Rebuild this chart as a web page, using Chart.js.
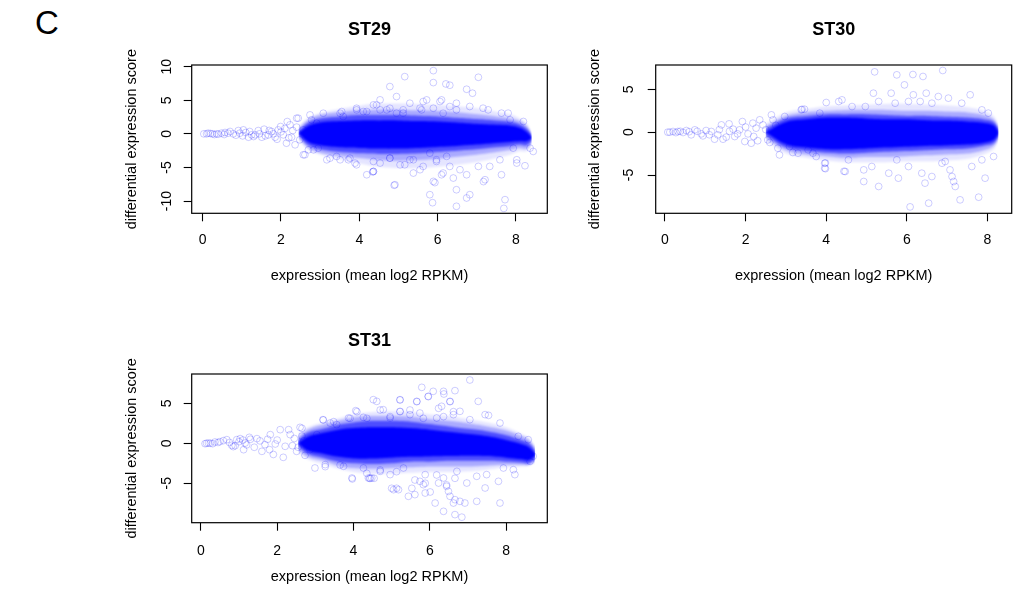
<!DOCTYPE html>
<html>
<head>
<meta charset="utf-8">
<script src="https://cdn.jsdelivr.net/npm/chart.js@4/dist/chart.umd.min.js"></script>
<style>
  html, body { margin: 0; padding: 0; background: #fff; }
  body { width: 1018px; height: 593px; position: relative; overflow: hidden;
         font-family: "Liberation Sans", Arial, Helvetica, sans-serif; }
  canvas { position: absolute; }
  #panelLetter { position: absolute; left: 35px; top: 6px; font-size: 33px; line-height: 33px; color: #000; }
</style>
</head>
<body>
<div id="panelLetter">C</div>
<canvas id="st29" width="460" height="290" style="left:100px;top:0px"></canvas>
<canvas id="st30" width="458" height="290" style="left:560px;top:0px"></canvas>
<canvas id="st31" width="460" height="283" style="left:100px;top:310px"></canvas>
<script>
const xTicks = [0, 2, 4, 6, 8];
const xTitle = 'expression (mean log2 RPKM)';
const yTitle = 'differential expression score';

// ---- ST29 ----
const st29XRange = [-0.28, 8.8];
const st29YRange = [-11.83, 10.25];
const st29YTicks = [-10, -5, 0, 5, 10];
// envelope of the dense cloud, from the solid core out to the thin fringe
const st29BandX   = [2.45, 2.7, 3.0, 3.5, 4.0, 4.5, 5.0, 5.5, 6.0, 6.5, 7.0, 7.5, 7.85, 8.1, 8.27, 8.4];
const st29CoreHi  = [0.1, 1.2, 1.7, 1.9, 2.0, 2.0, 2.0, 1.9, 1.85, 1.7, 1.5, 1.35, 1.25, 0.9, 0.3, -0.5];
const st29CoreLo  = [0.1, -1.2, -1.7, -2.0, -2.1, -2.2, -2.2, -2.1, -1.95, -1.8, -1.6, -1.35, -1.2, -1.1, -1.1, -0.7];
const st29MidHi   = [0.4, 1.7, 2.3, 2.6, 2.8, 2.8, 2.8, 2.7, 2.6, 2.4, 2.2, 2.0, 1.8, 1.4, 0.8, -0.2];
const st29MidLo   = [-0.2, -1.7, -2.3, -2.7, -2.9, -3.0, -3.0, -2.9, -2.7, -2.5, -2.3, -2.0, -1.8, -1.6, -1.7, -1.1];
const st29OuterHi = [0.8, 2.1, 2.8, 3.2, 3.5, 3.6, 3.6, 3.5, 3.4, 3.2, 2.9, 2.6, 2.3, 1.9, 1.2, 0.0];
const st29OuterLo = [-0.6, -2.1, -2.8, -3.3, -3.6, -3.9, -4.0, -3.9, -3.7, -3.4, -3.1, -2.7, -2.4, -2.1, -2.2, -1.4];
const st29HaloHi  = [1.2, 2.4, 3.1, 3.7, 4.2, 4.5, 4.5, 4.4, 4.3, 4.1, 3.8, 3.3, 2.9, 2.3, 1.6, 0.2];
const st29HaloLo  = [-1.0, -2.4, -3.1, -3.8, -4.4, -4.9, -5.1, -5.1, -4.9, -4.6, -4.2, -3.6, -3.1, -2.6, -2.6, -1.8];
// individual genes outside the dense cloud
const st29Points = [
  [0.03,0],[0.10,0],[0.14,0.1],[0.20,0.05],[0.25,0],[0.30,-0.1],[0.36,0],[0.40,-0.05],[0.48,0.1],[0.55,-0.1],
  [0.57,0.2],[0.65,0.1],[0.70,0.35],[0.78,0],[0.85,-0.2],[0.91,0.49],[0.95,0.1],[1.02,-0.3],[1.04,0.59],[1.10,0.2],
  [1.17,-0.5],[1.20,0.35],[1.25,-0.15],[1.30,-0.4],[1.34,-0.15],[1.42,0.49],[1.45,0],[1.51,-0.5],[1.57,0.69],[1.60,-0.3],
  [1.68,-0.15],[1.70,0.5],[1.76,0.35],[1.80,0],[1.85,-0.5],[1.90,-0.8],[1.93,0.59],[1.99,1.09],[2.00,0.3],[2.06,-0.15],
  [2.10,0.8],[2.14,-1.39],[2.16,1.83],[2.20,-0.6],[2.23,1.34],[2.27,-0.5],[2.30,0.5],[2.36,-1.63],[2.40,1.0],[2.44,2.33],
  [2.48,-0.89],[2.57,0.59],[2.61,-3.12],[2.70,-2.38],[2.78,2.08],[2.91,1.59],[2.95,-2.13],[3.08,3.07],[3.25,-3.62],[3.42,-3.37],
  [3.51,-3.86],[3.55,3.32],[3.59,2.58],[3.72,-3.86],[3.89,-4.36],[3.93,3.57],[4.10,3.32],[4.19,-6.09],[4.34,-5.67],
  [2.40,2.33],[2.74,2.82],[2.57,-3.12],[2.83,-2.38],[3.17,-3.86],[3.51,3.07],[3.76,-3.62],[3.93,3.81],[3.93,-4.61],[4.19,3.32],
  [4.36,4.31],[4.36,-4.11],[4.36,-5.60],[4.53,3.57],[4.78,3.81],[4.78,-3.62],[4.95,3.07],[5.04,-4.61],[5.12,3.57],[5.38,-3.86],
  [5.59,3.57],[5.63,-4.85],[5.72,5.05],[5.80,-2.87],[5.89,3.81],[5.89,-7.08],[5.97,-4.11],[6.10,5.05],[6.14,3.07],[6.14,-5.84],
  [6.31,4.06],[6.31,-4.85],[6.48,3.57],
  [5.89,9.41],[5.16,8.52],[4.78,7.04],[5.89,7.63],[6.21,7.43],[6.31,7.24],[6.74,6.64],[6.89,6.05],[7.04,8.42],[4.95,5.55],
  [4.53,5.06],[4.44,4.31],[5.29,4.56],[5.63,4.81],[6.06,4.81],[6.48,4.56],[6.82,4.07],[7.16,3.82],[7.29,3.57],[7.63,3.08],
  [7.80,3.08],[7.85,2.08],[8.19,1.84],[5.55,3.82],[5.12,3.08],[4.70,3.57],
  [4.36,-5.59],[4.91,-7.57],[5.38,-5.84],[5.16,-4.60],[5.55,-5.34],[5.97,-3.86],[6.10,-6.09],[6.40,-6.58],[5.80,-9.06],[5.87,-10.25],
  [6.82,-9.06],[6.74,-9.55],[6.48,-8.32],[6.48,-10.79],[7.21,-6.83],[7.63,-6.09],[7.72,-9.80],[7.69,-11.1],[8.02,-4.35],[8.23,-4.75],
  [7.93,-2.13],[8.36,-2.13],[8.44,-2.62],[6.57,-5.34],[6.74,-6.09],[7.04,-4.85],[7.33,-4.85],[6.23,-3.36],[4.78,-3.61],[4.53,-4.35],
  [5.29,-3.86],[7.59,-3.86],[8.02,-3.86],[4.89,-7.66],[5.93,-7.26],[7.17,-7.11]
];

// ---- ST30 ----
const st30XRange = [-0.23, 8.6];
const st30YRange = [-9.47, 7.84];
const st30YTicks = [-5, 0, 5];
const st30BandX   = [2.5, 3.0, 3.5, 4.0, 4.5, 5.0, 5.5, 6.0, 6.5, 7.0, 7.5, 7.9, 8.15, 8.27];
const st30CoreHi  = [0.0, 1.2, 1.5, 1.7, 1.7, 1.6, 1.5, 1.5, 1.4, 1.35, 1.25, 1.1, 0.8, 0.1];
const st30CoreLo  = [0.0, -1.4, -1.8, -2.0, -2.0, -1.9, -1.8, -1.7, -1.6, -1.55, -1.45, -1.25, -0.9, -0.2];
const st30MidHi   = [0.4, 1.6, 1.9, 2.1, 2.1, 2.1, 2.0, 1.9, 1.9, 1.8, 1.7, 1.5, 1.2, 0.4];
const st30MidLo   = [-0.4, -1.8, -2.2, -2.4, -2.5, -2.4, -2.3, -2.2, -2.1, -2.0, -1.9, -1.6, -1.3, -0.5];
const st30OuterHi = [0.7, 1.9, 2.3, 2.5, 2.6, 2.6, 2.6, 2.5, 2.5, 2.4, 2.3, 2.0, 1.5, 0.6];
const st30OuterLo = [-0.7, -2.1, -2.6, -2.8, -3.0, -2.9, -2.9, -2.8, -2.7, -2.6, -2.5, -2.1, -1.6, -0.7];
const st30HaloHi  = [1.0, 2.3, 2.7, 3.0, 3.1, 3.2, 3.3, 3.3, 3.2, 3.1, 2.9, 2.5, 1.9, 0.8];
const st30HaloLo  = [-1.0, -2.5, -3.0, -3.3, -3.5, -3.5, -3.5, -3.4, -3.4, -3.3, -3.1, -2.6, -2.0, -1.0];
const st30Points = [
  [0.07,0],[0.12,0],[0.20,0.08],[0.27,-0.05],[0.32,0.08],[0.38,0.1],[0.45,-0.04],[0.53,0.19],[0.60,0.05],[0.65,-0.31],
  [0.74,0.27],[0.80,0.1],[0.90,-0.20],[0.94,-0.43],[1.02,0.19],[1.10,-0.3],[1.15,0.08],[1.23,-0.82],[1.31,-0.31],[1.35,0.3],
  [1.40,0.85],[1.44,-0.82],[1.52,-0.58],[1.59,0.97],[1.60,0.1],[1.69,0.35],[1.73,-0.51],[1.80,-0.2],[1.85,0.27],[1.92,1.24],
  [1.98,-1.09],[2.00,0.6],[2.06,-0.20],[2.14,-1.29],[2.18,1.05],[2.20,-0.5],[2.26,0.47],[2.30,-1.0],[2.35,1.44],[2.43,0.85],
  [2.50,0.3],[2.55,-0.90],[2.60,-1.2],[2.64,2.02],[2.68,1.44],[2.75,0.8],[2.80,-1.87],[2.84,-2.65],[2.97,1.83],[3.09,-1.67],
  [3.17,-2.37],[3.30,-2.45],[3.38,2.61],[3.40,2.67],[3.46,2.68],[3.55,-2.06],[3.67,-2.45],[3.75,-2.84],[3.84,2.22],[3.96,-3.62],
  [3.96,-4.20],[4.00,3.46],
  [5.20,7.04],[5.75,6.69],[6.15,6.73],[6.40,6.50],[6.89,7.20],[5.94,5.52],[5.61,4.55],[5.17,4.55],[6.16,4.36],[6.48,4.55],
  [7.57,4.36],[4.39,3.77],[4.31,3.58],[5.30,3.58],[6.04,3.58],[6.33,3.58],[6.78,4.16],[7.03,3.97],[7.36,3.38],[4.97,2.99],
  [4.64,2.99],[5.71,3.38],[6.62,3.38],[7.86,2.60],[8.02,2.22],
  [4.47,-4.59],[4.93,-5.76],[5.30,-6.34],[5.79,-5.37],[6.08,-8.72],[6.54,-8.29],[6.45,-5.95],[7.07,-4.40],[7.12,-5.18],[7.16,-5.76],
  [7.20,-6.34],[7.32,-7.90],[7.78,-7.59],[7.94,-5.37],[8.15,-2.84],[4.55,-3.23],[5.13,-4.01],[5.55,-4.79],[6.04,-4.01],[6.62,-5.18],
  [6.87,-3.62],[7.61,-4.01],[7.86,-3.23],[4.93,-4.40],[5.75,-3.23],[6.37,-4.79],[6.95,-3.42],[3.98,-3.60],[3.98,-4.26],[4.44,-4.57]
];

// ---- ST31 ----
const st31XRange = [-0.24, 9.08];
const st31YRange = [-9.93, 8.66];
const st31YTicks = [-5, 0, 5];
const st31BandX   = [2.55, 2.8, 3.2, 3.6, 4.0, 4.5, 5.0, 5.5, 6.0, 6.5, 7.0, 7.5, 8.0, 8.4, 8.6, 8.76];
const st31CoreHi  = [0.0, 0.8, 1.3, 1.7, 1.9, 2.0, 2.0, 1.9, 1.7, 1.45, 1.2, 0.9, 0.4, -0.1, -0.5, -1.3];
const st31CoreLo  = [0.0, -0.9, -1.3, -1.7, -1.9, -1.9, -1.8, -1.7, -1.65, -1.6, -1.55, -1.6, -1.8, -2.0, -2.1, -1.6];
const st31MidHi   = [0.4, 1.3, 1.8, 2.3, 2.6, 2.8, 2.8, 2.7, 2.4, 2.1, 1.8, 1.5, 1.0, 0.4, 0.0, -0.9];
const st31MidLo   = [-0.4, -1.3, -1.8, -2.3, -2.5, -2.6, -2.5, -2.3, -2.3, -2.2, -2.2, -2.2, -2.3, -2.4, -2.5, -2.0];
const st31OuterHi = [0.8, 1.7, 2.3, 2.8, 3.2, 3.4, 3.4, 3.3, 3.0, 2.8, 2.5, 2.1, 1.6, 0.9, 0.4, -0.6];
const st31OuterLo = [-0.8, -1.7, -2.2, -2.8, -3.1, -3.2, -3.1, -3.0, -2.9, -2.9, -2.9, -2.8, -2.7, -2.7, -2.7, -2.2];
const st31HaloHi  = [1.2, 2.0, 2.6, 3.1, 3.6, 3.9, 4.0, 3.9, 3.6, 3.4, 3.0, 2.6, 2.0, 1.2, 0.7, -0.4];
const st31HaloLo  = [-1.2, -2.0, -2.6, -3.2, -3.6, -3.8, -3.8, -3.7, -3.6, -3.6, -3.5, -3.3, -3.0, -2.9, -2.8, -2.4];
const st31Points = [
  [0.11,-0.05],[0.15,0],[0.20,0.03],[0.25,0],[0.31,-0.05],[0.37,0.16],[0.45,0.1],[0.50,0.2],[0.59,0.33],[0.68,0.45],
  [0.75,0.1],[0.81,-0.26],[0.85,-0.42],[0.90,-0.3],[0.94,0.45],[1.00,0.2],[1.03,0.58],[1.10,0.4],[1.12,-0.80],[1.16,0.03],
  [1.20,-0.2],[1.27,0.74],[1.30,0.5],[1.40,-0.5],[1.47,0.58],[1.55,0.3],[1.60,-1.01],[1.68,-0.17],[1.75,0.5],[1.80,-0.80],
  [1.82,1.08],[1.90,-1.4],[1.95,-0.09],[2.00,0.4],[2.08,1.70],[2.16,-1.76],[2.21,-0.38],[2.30,1.70],[2.34,1.08],[2.40,-0.3],
  [2.45,0.6],[2.51,-1.01],[2.55,-0.5],[2.60,1.99],[2.65,0.9],[2.70,0.3],[2.73,-1.51],[2.86,-0.80],[2.99,-3.09],[3.04,1.08],
  [3.20,2.95],[3.26,-2.67],[3.39,2.53],[3.56,2.33],[3.74,-2.88],[3.87,3.16],[3.96,-4.34],[4.06,4.08],[4.26,3.24],[4.39,-4.34],
  [4.26,-3.09],
  [2.65,1.87],[3.21,2.91],[3.26,-2.92],[3.48,2.70],[3.65,-2.71],[3.91,3.12],[4.09,3.95],[4.35,3.12],[4.35,-3.76],[4.44,-4.38],
  [4.70,4.16],[4.70,-3.34],[4.96,3.33],[5.00,-5.63],[5.13,-3.55],[5.13,-5.63],[5.22,5.41],[5.22,3.95],[5.48,4.16],[5.53,-5.63],
  [5.61,-4.59],[5.66,5.20],[5.83,3.12],[5.88,-5.00],[5.96,5.83],[6.18,-3.96],[6.23,4.37],[6.36,3.33],[6.44,-5.21],[6.53,5.20],
  [6.62,3.95],[6.66,-4.38],
  [7.05,7.91],[5.79,6.99],[6.09,6.49],[6.36,6.49],[6.37,6.16],[6.66,6.58],[5.96,5.87],[7.27,5.24],[5.22,5.45],[5.66,5.24],
  [6.53,5.24],[4.52,5.45],[4.61,5.24],[4.78,4.20],[5.22,3.99],[6.31,4.62],[5.74,3.78],[6.79,3.99],[7.45,3.58],[7.54,3.49],
  [7.84,2.53],[8.32,0.87],[8.58,0.45],[4.96,3.16],[6.18,3.16],[7.05,2.95],[5.48,3.58],[6.62,3.58],
  [4.48,-4.34],[5.05,-5.80],[5.18,-5.80],[5.74,-4.76],[5.83,-5.17],[5.44,-6.63],[5.61,-6.42],[5.88,-6.22],[6.01,-6.09],[6.23,-4.97],
  [6.36,-4.34],[6.44,-5.38],[6.49,-6.01],[6.53,-6.63],[6.66,-7.05],[6.79,-7.26],[6.92,-7.47],[6.14,-7.47],[6.62,-7.47],[6.36,-8.51],
  [6.66,-8.92],[6.84,-9.24],[7.23,-7.26],[7.45,-5.59],[7.84,-7.47],[7.80,-4.76],[8.19,-3.30],[8.23,-3.92],[8.63,-2.26],[8.71,-1.63],
  [6.97,-4.97],[7.23,-4.13],[7.49,-3.92],[4.70,-3.51],[5.31,-3.09],[6.71,-3.51],[7.93,-3.09],[4.96,-3.92],[5.88,-3.92],[3.97,-4.46],
  [4.42,-4.38],[4.54,-4.38]
];

Chart.defaults.font.family = '"Liberation Sans", Arial, Helvetica, sans-serif';
Chart.defaults.color = '#000';

const POINTS_INDEX = 8;

// black frame round the plotting region
const plotBox = {
  id: 'plotBox',
  afterDraw(chart) {
    const a = chart.chartArea;
    const ctx = chart.ctx;
    ctx.save();
    ctx.strokeStyle = '#000';
    ctx.lineWidth = 1.2;
    ctx.strokeRect(a.left, a.top, a.right - a.left, a.bottom - a.top);
    ctx.restore();
  }
};

// overlapping circles leave a soft rim on the cloud, so the bands get a slight blur
const softCloud = {
  id: 'softCloud',
  beforeDatasetsDraw(chart) {
    chart.ctx.save();
    chart.ctx.filter = 'blur(1px)';
  },
  beforeDatasetDraw(chart, args) {
    if (args.index === POINTS_INDEX) chart.ctx.filter = 'none';
  },
  afterDatasetsDraw(chart) {
    chart.ctx.restore();
  }
};

function xy(xs, ys) {
  return xs.map((x, i) => ({ x: x, y: ys[i] }));
}

function bandPair(xs, hi, lo, color, order) {
  const common = { borderColor: 'rgba(0,0,0,0)', borderWidth: 0, pointRadius: 0, tension: 0.4, order: order };
  return [
    Object.assign({ data: xy(xs, hi), fill: '+1', backgroundColor: color }, common),
    Object.assign({ data: xy(xs, lo), fill: false }, common)
  ];
}

function drawPanel(id, name, p) {
  const cv = document.getElementById(id);
  const H = cv.height;
  const datasets = [].concat(
    bandPair(p.bandX, p.coreHi, p.coreLo, 'rgb(0, 0, 255)', 1),
    bandPair(p.bandX, p.midHi, p.midLo, 'rgba(0, 0, 255, 0.55)', 2),
    bandPair(p.bandX, p.outerHi, p.outerLo, 'rgba(0, 0, 255, 0.26)', 3),
    bandPair(p.bandX, p.haloHi, p.haloLo, 'rgba(0, 0, 255, 0.1)', 4),
    [{
      data: p.points.map(d => ({ x: d[0], y: d[1] })),
      showLine: false,
      pointRadius: 3.4,
      pointBorderWidth: 1,
      borderColor: 'rgba(0, 0, 255, 0.2)',
      backgroundColor: 'rgba(0, 0, 0, 0)',
      order: 0
    }]
  );

  return new Chart(cv.getContext('2d'), {
    type: 'line',
    data: { datasets: datasets },
    plugins: [softCloud, plotBox],
    options: {
      responsive: false,
      animation: false,
      events: [],
      layout: { padding: { left: 0, top: 0, right: cv.width - p.area.right, bottom: 0 } },
      plugins: {
        legend: { display: false },
        tooltip: { enabled: false },
        title: {
          display: true,
          text: name,
          fullSize: false,
          font: { size: 18, weight: 'bold' },
          padding: { top: p.titleTop, bottom: p.area.top - p.titleTop - 21.6 }
        }
      },
      scales: {
        x: {
          type: 'linear',
          min: p.xRange[0],
          max: p.xRange[1],
          afterBuildTicks: s => { s.ticks = xTicks.map(v => ({ value: v })); },
          afterFit: s => { s.height = H - p.area.bottom; },
          border: { display: false },
          grid: { drawOnChartArea: false, color: '#000', tickLength: 8, tickWidth: 1.1 },
          ticks: { font: { size: 14 }, padding: p.xTickPad, maxRotation: 0, autoSkip: false },
          title: { display: true, text: xTitle, font: { size: 14.5 }, padding: { top: 0, bottom: p.xTitlePad } }
        },
        y: {
          type: 'linear',
          min: p.yRange[0],
          max: p.yRange[1],
          afterBuildTicks: s => { s.ticks = p.yTicks.map(v => ({ value: v })); },
          afterFit: s => { s.width = p.area.left; },
          border: { display: false },
          grid: { drawOnChartArea: false, color: '#000', tickLength: 8, tickWidth: 1.1 },
          ticks: { font: { size: 14 }, padding: p.yTickPad, minRotation: 90, maxRotation: 90,
                   crossAlign: 'center', autoSkip: false },
          title: { display: true, text: yTitle, font: { size: 14.5 }, padding: { top: p.yTitlePad, bottom: 0 } }
        }
      }
    }
  });
}

drawPanel('st29', 'ST29', {
  xRange: st29XRange, yRange: st29YRange, yTicks: st29YTicks, bandX: st29BandX,
  coreHi: st29CoreHi, coreLo: st29CoreLo, midHi: st29MidHi, midLo: st29MidLo,
  outerHi: st29OuterHi, outerLo: st29OuterLo, haloHi: st29HaloHi, haloLo: st29HaloLo, points: st29Points,
  area: { left: 91.7, top: 65, right: 447.3, bottom: 213.3 },
  titleTop: 19.2, xTickPad: 10.3, xTitlePad: 5.3, yTickPad: 6.9, yTitlePad: 23
});

drawPanel('st30', 'ST30', {
  xRange: st30XRange, yRange: st30YRange, yTicks: st30YTicks, bandX: st30BandX,
  coreHi: st30CoreHi, coreLo: st30CoreLo, midHi: st30MidHi, midLo: st30MidLo,
  outerHi: st30OuterHi, outerLo: st30OuterLo, haloHi: st30HaloHi, haloLo: st30HaloLo, points: st30Points,
  area: { left: 95.7, top: 65, right: 451.7, bottom: 213.3 },
  titleTop: 19.2, xTickPad: 10.3, xTitlePad: 5.3, yTickPad: 12, yTitlePad: 26.3
});

drawPanel('st31', 'ST31', {
  xRange: st31XRange, yRange: st31YRange, yTicks: st31YTicks, bandX: st31BandX,
  coreHi: st31CoreHi, coreLo: st31CoreLo, midHi: st31MidHi, midLo: st31MidLo,
  outerHi: st31OuterHi, outerLo: st31OuterLo, haloHi: st31HaloHi, haloLo: st31HaloLo, points: st31Points,
  area: { left: 91.7, top: 64, right: 447.3, bottom: 212.7 },
  titleTop: 19.9, xTickPad: 11.9, xTitlePad: 7.6, yTickPad: 10.7, yTitlePad: 23
});
</script>
</body>
</html>
